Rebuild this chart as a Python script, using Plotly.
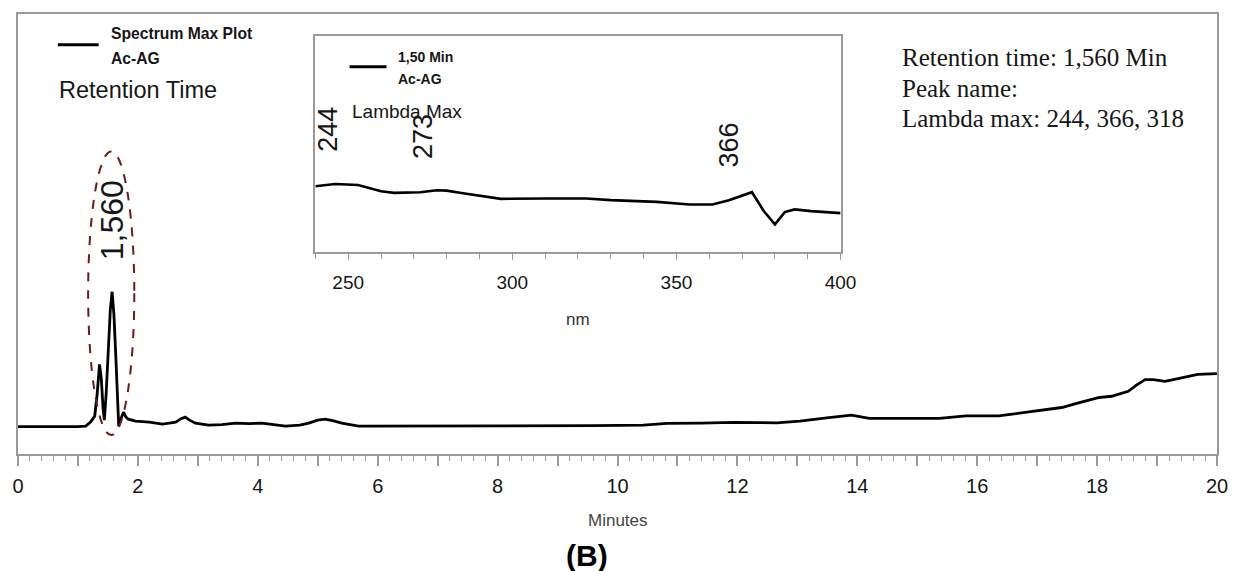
import plotly.graph_objects as go

# Chromatogram: retention time (min) vs detector response (arbitrary units)
rt_min = [0.00, 0.50, 1.00, 1.13, 1.21, 1.28, 1.32, 1.36, 1.39, 1.42, 1.44, 1.47,
          1.50, 1.54, 1.57, 1.60, 1.63, 1.66, 1.68, 1.72, 1.76, 1.80, 1.84, 1.96,
          2.19, 2.41, 2.63, 2.72, 2.79, 2.86, 2.96, 3.18, 3.40, 3.63, 3.85, 4.07,
          4.30, 4.46, 4.70, 4.85, 5.00, 5.12, 5.25, 5.40, 5.68, 6.40, 7.50, 8.50,
          9.60, 10.43, 10.83, 11.40, 11.93, 12.66, 13.04, 13.49, 13.90, 14.20,
          14.70, 15.37, 15.81, 16.36, 16.86, 17.41, 17.69, 18.02, 18.24, 18.52,
          18.65, 18.80, 18.94, 19.13, 19.35, 19.68, 20.00]
response = [27.5, 27.3, 27.5, 28, 32, 38, 60, 90, 75, 45, 34, 60,
            94, 145, 163, 140, 100, 50, 28, 36, 42, 37, 35, 33,
            32, 30, 32, 35.5, 37, 34, 31, 29, 29.5, 31, 30.5, 31,
            29.5, 28, 29, 31, 34, 35, 33.5, 31, 28, 28, 28, 28,
            28.5, 29, 30.7, 31, 31.7, 31.3, 33, 36.3, 39, 35.7,
            35.7, 35.7, 38.3, 38.3, 42.3, 46.7, 51.3, 56.7, 58, 63,
            69, 74.7, 74.7, 73, 75.7, 80, 80.7]

# UV spectrum of the peak at 1.50 min
wavelength_nm = [240, 246, 253, 260, 264, 272, 277, 280, 285, 291, 296.5, 311,
                 322.5, 330, 344, 354, 361, 366, 373, 376.6, 380, 383, 386, 391, 400]
absorbance = [65.7, 68, 67, 60.7, 59, 59.7, 61.7, 61.3, 58.7, 56, 53, 53.4,
              53.4, 51.7, 50, 47.4, 47.4, 51.7, 59.7, 40.7, 27.4, 39.7, 42.4, 40.7, 38.7]

# Labelled maxima
lambda_labels = [244, 273, 366]
peak_rt = 1.56
peak_label = "1,560"

main_ticks = list(range(0, 21))
main_ticktext = [str(v) if v % 2 == 0 else "" for v in main_ticks]
inset_ticks = [250, 300, 350, 400]

W, H = 1245, 571
L, R, T, B = 15, 26, 12, 117
PW, PH = W - L - R, H - T - B

SANS = "Liberation Sans, Arial, sans-serif"
SERIF = "Liberation Serif, Times New Roman, serif"
AXIS_GREY = "#9a9a9a"
INK = "#161616"


def px(xp):
    return (xp - L) / PW


def py(yp):
    return (T + PH - yp) / PH


fig = go.Figure()

fig.add_trace(go.Scatter(x=rt_min, y=response, mode="lines",
                         line=dict(color="black", width=2.8),
                         xaxis="x", yaxis="y", hoverinfo="x+y"))
fig.add_trace(go.Scatter(x=wavelength_nm, y=absorbance, mode="lines",
                         line=dict(color="black", width=2.6),
                         xaxis="x2", yaxis="y2", hoverinfo="x+y"))


def interp(xs, ys, xv):
    for i in range(len(xs) - 1):
        if xs[i] <= xv <= xs[i + 1]:
            t = (xv - xs[i]) / (xs[i + 1] - xs[i])
            return ys[i] + t * (ys[i + 1] - ys[i])
    return ys[-1]


annotations = []

# Rotated wavelength labels above the spectrum
for lam in lambda_labels:
    annotations.append(dict(x=lam, y=interp(wavelength_nm, absorbance, lam),
                            xref="x2", yref="y2", text=str(lam), textangle=-90,
                            showarrow=False, xanchor="center", yanchor="bottom",
                            yshift=31, font=dict(family=SANS, size=27, color=INK)))

# Retention time label over the main peak
annotations.append(dict(x=peak_rt, y=interp(rt_min, response, peak_rt),
                        xref="x", yref="y", text=peak_label, textangle=-90,
                        showarrow=False, xanchor="center", yanchor="bottom",
                        yshift=35, font=dict(family=SANS, size=32, color=INK)))


def text(xp, yp, s, font, xanchor="left"):
    annotations.append(dict(x=px(xp), y=py(yp), xref="paper", yref="paper",
                            text=s, showarrow=False, xanchor=xanchor,
                            yanchor="middle", font=font))


# Main legend
text(106, 32, "<b>Spectrum Max Plot</b>", dict(family=SANS, size=15.7, color=INK))
text(106, 57, "<b>Ac-AG</b>", dict(family=SANS, size=15.7, color=INK))
text(54, 88, "Retention Time", dict(family=SANS, size=23.5, color=INK))

# Inset legend
text(395, 55, "<b>1,50 Min</b>", dict(family=SANS, size=14, color=INK))
text(395, 77, "<b>Ac-AG</b>", dict(family=SANS, size=14, color=INK))
text(348, 110, "Lambda Max", dict(family=SANS, size=19, color=INK))

# Peak information block
serif_font = dict(family=SERIF, size=25, color=INK)
text(901, 56, "Retention time: 1,560 Min", serif_font)
text(901, 87, "Peak name:", serif_font)
text(901, 117, "Lambda max: 244, 366, 318", serif_font)

# Axis titles and panel tag
text(617, 521, "Minutes", dict(family=SANS, size=17, color="#444444"), "center")
text(586, 556, "<b>(B)</b>", dict(family=SANS, size=30, color="black"), "center")
text(577, 319, "nm", dict(family=SANS, size=17, color="#333333"), "center")

shapes = [
    # legend line samples
    dict(type="line", xref="paper", yref="paper", x0=px(55), x1=px(96),
         y0=py(43), y1=py(43), line=dict(color="black", width=3)),
    dict(type="line", xref="paper", yref="paper", x0=px(348), x1=px(385),
         y0=py(65), y1=py(65), line=dict(color="black", width=3)),
    # dashed ellipse around the main peak
    dict(type="circle", xref="x", yref="y", x0=1.17, x1=1.94, y0=19, y1=304,
         line=dict(color="#6e1a1a", width=2, dash="dash")),
]

inset_x0, inset_x1 = px(313.6), px(841)
inset_y0, inset_y1 = py(250.7), py(34.3)

fig.update_layout(
    width=W, height=H,
    margin=dict(l=L, r=R, t=T, b=B, pad=0),
    paper_bgcolor="white", plot_bgcolor="white",
    showlegend=False,
    xaxis=dict(domain=[0, 1], range=[0, 20], showgrid=False, zeroline=False,
               showline=True, linecolor=AXIS_GREY, linewidth=1.5, mirror=True,
               ticks="outside", ticklen=10, tickwidth=1.5, tickcolor=AXIS_GREY,
               tickmode="array", tickvals=main_ticks, ticktext=main_ticktext,
               ticklabelstandoff=3,
               tickfont=dict(family=SANS, size=20, color=INK),
               minor=dict(tickmode="linear", tick0=0, dtick=0.2, ticks="outside",
                          ticklen=5, tickwidth=1.2, tickcolor=AXIS_GREY,
                          showgrid=False)),
    yaxis=dict(domain=[0, 1], range=[0, 442], showgrid=False, zeroline=False,
               showline=True, linecolor=AXIS_GREY, linewidth=1.5, mirror=True,
               showticklabels=False, ticks=""),
    xaxis2=dict(domain=[inset_x0, inset_x1], anchor="y2", range=[240, 400],
                showgrid=False, zeroline=False, showline=True,
                linecolor=AXIS_GREY, linewidth=1.5, mirror=True,
                ticks="outside", ticklen=7, tickwidth=1.2, tickcolor=AXIS_GREY,
                tickmode="array", tickvals=inset_ticks,
                ticklabelstandoff=6,
                tickfont=dict(family=SANS, size=19, color=INK),
                minor=dict(tickmode="linear", tick0=240, dtick=10, ticks="outside",
                           ticklen=6, tickwidth=1.2, tickcolor=AXIS_GREY,
                           showgrid=False)),
    yaxis2=dict(domain=[inset_y0, inset_y1], anchor="x2", range=[0, 216.4],
                showgrid=False, zeroline=False, showline=True,
                linecolor=AXIS_GREY, linewidth=1.5, mirror=True,
                showticklabels=False, ticks=""),
    annotations=annotations,
    shapes=shapes,
)

fig.write_html("out.html")
